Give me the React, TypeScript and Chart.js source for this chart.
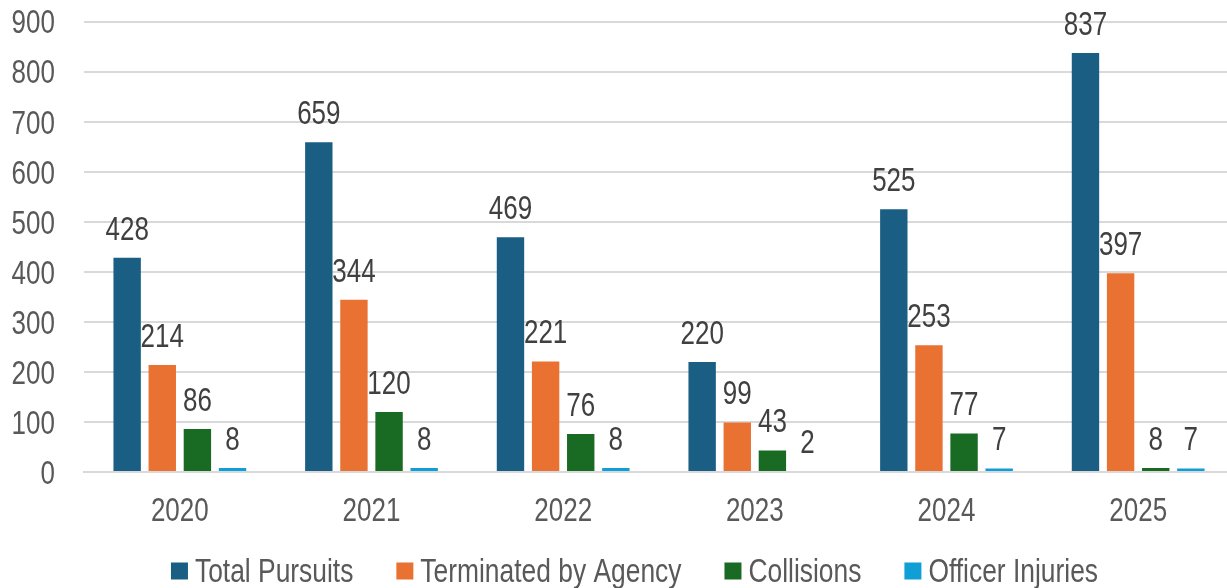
import React, { useEffect, useRef } from "react";
import { Chart, registerables } from "chart.js";

Chart.register(...registerables);

const years = ["2020", "2021", "2022", "2023", "2024", "2025"];
const totalPursuits = [428, 659, 469, 220, 525, 837];
const terminatedByAgency = [214, 344, 221, 99, 253, 397];
const collisions = [86, 120, 76, 43, 77, 8];
const officerInjuries = [8, 8, 8, 2, 7, 7];
const seriesNames = ["Total Pursuits", "Terminated by Agency", "Collisions", "Officer Injuries"];
const seriesColors = ["#1A5E83", "#E97132", "#196B24", "#0F9ED5"];
const yTickValues = [0, 100, 200, 300, 400, 500, 600, 700, 800, 900];

const FONT = "'Liberation Sans', Arial, sans-serif";
const FS = 26;
const STRETCH = 1.28;

function drawText(ctx: CanvasRenderingContext2D, text: string, x: number, cy: number, align: CanvasTextAlign, color: string, size = FS) {
  ctx.save();
  ctx.font = `${size}px ${FONT}`;
  ctx.fillStyle = color;
  ctx.textAlign = align;
  ctx.textBaseline = "alphabetic";
  const baseline = cy + 0.358 * size * STRETCH;
  ctx.translate(x, baseline);
  ctx.scale(1, STRETCH);
  ctx.fillText(text, 0, 0);
  ctx.restore();
}

const textPlugin = {
  id: "stretchedText",
  afterDatasetsDraw(chart: any) {
    const ctx: CanvasRenderingContext2D = chart.ctx;
    // data labels
    chart.data.datasets.forEach((ds: any, i: number) => {
      const meta = chart.getDatasetMeta(i);
      meta.data.forEach((bar: any, j: number) => {
        drawText(ctx, String(ds.data[j]), bar.x, bar.y - 30, "center", "#404040");
      });
    });
    // y ticks
    const ys = chart.scales.y;
    yTickValues.forEach((v) => {
      drawText(ctx, String(v), 55, ys.getPixelForValue(v), "right", "#595959");
    });
    // x ticks
    const xs = chart.scales.x;
    years.forEach((lab, i) => {
      drawText(ctx, lab, xs.getPixelForValue(i), 509.5, "center", "#595959");
    });
    // legend
    const LFS = 26.4;
    ctx.save();
    ctx.font = `${LFS}px ${FONT}`;
    const box = 17;
    const boxGap = 7;
    const itemGap = 43;
    const widths = chart.data.datasets.map((ds: any) => ctx.measureText(ds.label).width);
    const total = widths.reduce((a: number, w: number) => a + box + boxGap + w, 0) + itemGap * (widths.length - 1);
    ctx.restore();
    let x = 634.5 - total / 2;
    chart.data.datasets.forEach((ds: any, i: number) => {
      ctx.save();
      ctx.fillStyle = ds.backgroundColor;
      ctx.fillRect(x, 571 - box / 2, box, box);
      ctx.restore();
      drawText(ctx, ds.label, x + box + boxGap, 569.5, "left", "#595959", LFS);
      x += box + boxGap + widths[i] + itemGap;
    });
  },
};

export default function App() {
  const ref = useRef<HTMLCanvasElement>(null);
  useEffect(() => {
    document.body.style.margin = "0";
    const data = [totalPursuits, terminatedByAgency, collisions, officerInjuries];
    const chart = new Chart(ref.current!, {
      type: "bar",
      data: {
        labels: years,
        datasets: data.map((d, i) => ({
          label: seriesNames[i],
          data: d,
          backgroundColor: seriesColors[i],
          borderWidth: 0,
          categoryPercentage: 0.733,
          barPercentage: 0.78,
        })),
      },
      options: {
        animation: false,
        responsive: false,
        maintainAspectRatio: false,
        layout: { padding: { top: 21.5, right: 0, left: 0, bottom: 0 } },
        plugins: {
          legend: { display: false },
          tooltip: { enabled: false },
        },
        scales: {
          x: {
            grid: { display: false },
            border: { color: "#D9D9D9", width: 2 },
            ticks: { display: false },
            afterFit(s: any) { s.height = 116; },
          },
          y: {
            min: 0,
            max: 900,
            ticks: { stepSize: 100, display: false },
            grid: { color: "#D9D9D9", lineWidth: 2, drawTicks: false },
            border: { display: false },
            afterFit(s: any) { s.width = 84; },
          },
        },
      },
      plugins: [textPlugin],
    });
    return () => chart.destroy();
  }, []);
  return (
    <div style={{ width: 1227, height: 588, overflow: "hidden" }}>
      <canvas ref={ref} width={1234} height={588} style={{ display: "block" }} />
    </div>
  );
}
